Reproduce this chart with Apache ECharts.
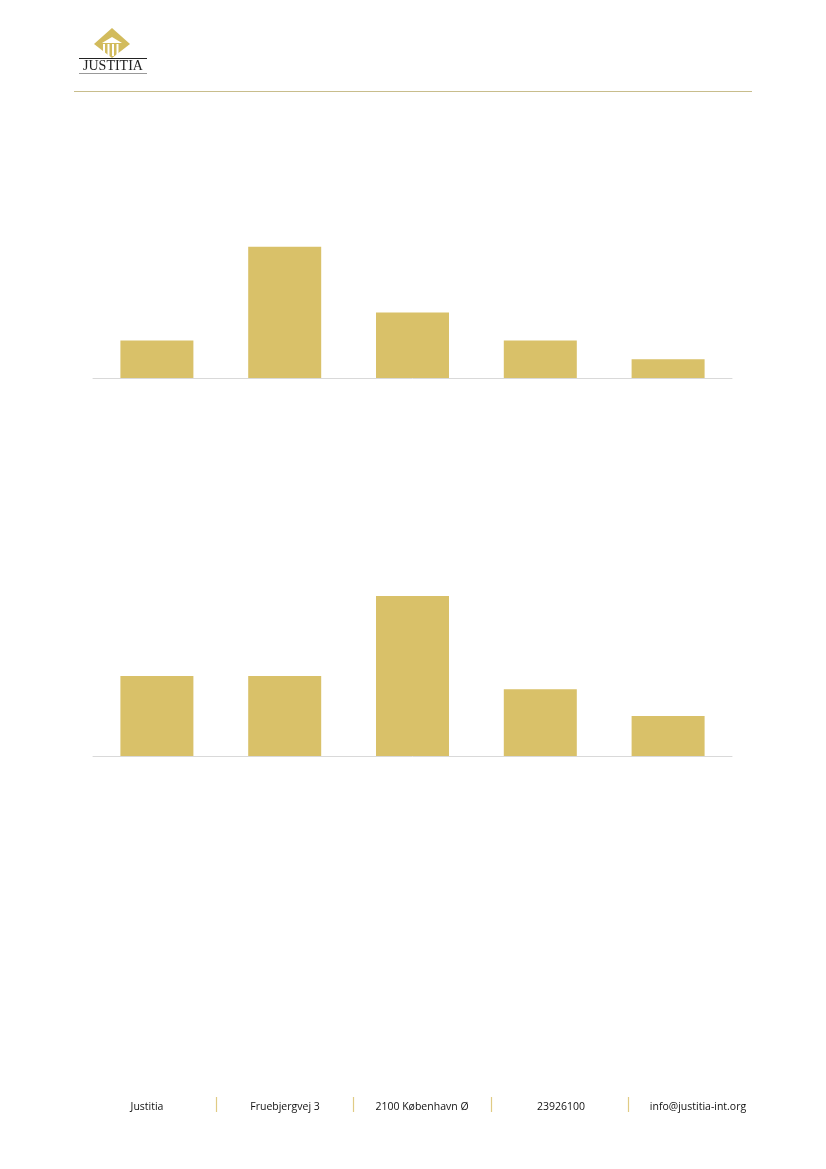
<!DOCTYPE html>
<html>
<head>
<meta charset="utf-8">
<script src="https://cdn.jsdelivr.net/npm/echarts@6/dist/echarts.min.js"></script>
<style>
html,body{margin:0;padding:0;background:#fff;}
#main{width:826px;height:1169px;}
</style>
</head>
<body>
<div id="main"></div>
<script>
// Data
const categories1 = ['A', 'B', 'C', 'D', 'E'];
const values1 = [4, 14, 7, 4, 2];
const categories2 = ['A', 'B', 'C', 'D', 'E'];
const values2 = [6, 6, 12, 5, 3];
const footerItems = ['Justitia', 'Fruebjergvej 3', '2100 København Ø', '23926100', 'info@justitia-int.org'];

const GOLD = '#d9c169';
const chart = echarts.init(document.getElementById('main'), null, {renderer: 'canvas'});

const footerCenters = [147, 285, 422, 561, 698];
const sepX = [216, 353, 491, 628];

const graphics = [
  // header rule
  {type: 'line', shape: {x1: 74, y1: 91.5, x2: 752, y2: 91.5}, style: {stroke: '#c8bd8c', lineWidth: 1}},
  // logo diamond
  {type: 'polygon', shape: {points: [[112, 28], [130, 44], [112, 58], [94, 44]]}, style: {fill: '#d2bb5c'}},
  // pediment & columns
  {type: 'polygon', shape: {points: [[102, 43], [112, 37], [122, 43]]}, style: {fill: '#fff'}},
  {type: 'rect', shape: {x: 103, y: 44, width: 2, height: 10}, style: {fill: '#fff'}},
  {type: 'rect', shape: {x: 107.5, y: 44, width: 2, height: 12}, style: {fill: '#fff'}},
  {type: 'rect', shape: {x: 112, y: 44, width: 2, height: 12}, style: {fill: '#fff'}},
  {type: 'rect', shape: {x: 116.5, y: 44, width: 2, height: 11}, style: {fill: '#fff'}},
  {type: 'line', shape: {x1: 79, y1: 58.5, x2: 147, y2: 58.5}, style: {stroke: '#222', lineWidth: 1}},
  {type: 'text', x: 113, y: 66, style: {text: 'JUSTITIA', fill: '#222', font: '14px "Liberation Serif", "DejaVu Serif", serif', align: 'center', verticalAlign: 'middle'}},
  {type: 'line', shape: {x1: 79, y1: 73.5, x2: 147, y2: 73.5}, style: {stroke: '#999', lineWidth: 1}}
];
footerItems.forEach((t, i) => {
  graphics.push({type: 'text', x: footerCenters[i], y: 1107, style: {text: t, fill: '#111', font: '10.5px "Open Sans", "Noto Sans", sans-serif', align: 'center', verticalAlign: 'middle'}});
});
sepX.forEach(x => {
  graphics.push({type: 'line', shape: {x1: x + 0.5, y1: 1097, x2: x + 0.5, y2: 1112}, style: {stroke: '#e0cb84', lineWidth: 1.2}});
});

const xAxisCommon = {
  type: 'category',
  axisLine: {show: true, lineStyle: {color: '#d9d9d9', width: 1}},
  axisTick: {show: false},
  axisLabel: {show: false},
  splitLine: {show: false}
};
const yAxisCommon = {
  type: 'value', min: 0, show: false, splitLine: {show: false}
};

chart.setOption({
  animation: false,
  backgroundColor: '#fff',
  grid: [
    {left: 93, right: 94, top: 228, bottom: 1169 - 378},
    {left: 93, right: 94, top: 556, bottom: 1169 - 756}
  ],
  xAxis: [
    Object.assign({gridIndex: 0, data: categories1}, xAxisCommon),
    Object.assign({gridIndex: 1, data: categories2}, xAxisCommon)
  ],
  yAxis: [
    Object.assign({gridIndex: 0, max: 16}, yAxisCommon),
    Object.assign({gridIndex: 1, max: 15}, yAxisCommon)
  ],
  series: [
    {type: 'bar', xAxisIndex: 0, yAxisIndex: 0, data: values1, barWidth: 73, itemStyle: {color: GOLD}, silent: true},
    {type: 'bar', xAxisIndex: 1, yAxisIndex: 1, data: values2, barWidth: 73, itemStyle: {color: GOLD}, silent: true}
  ],
  graphic: graphics
});
</script>
</body>
</html>
